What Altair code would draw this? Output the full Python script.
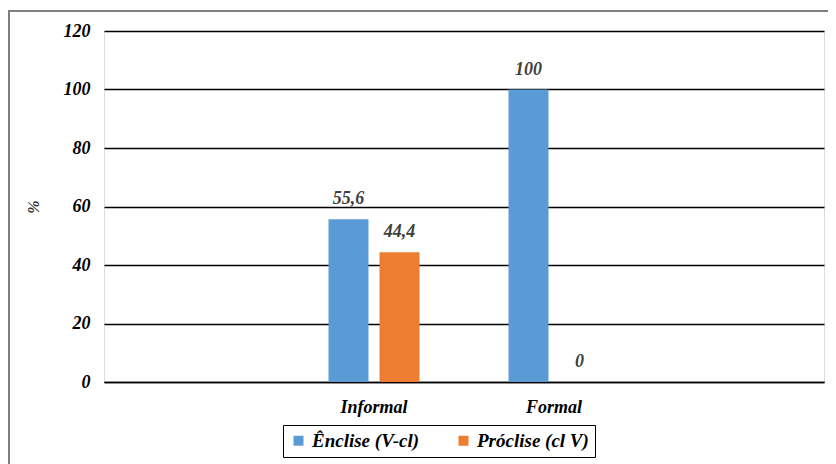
import altair as alt
import pandas as pd

# ---- data ----
axis_slots = ["slot_a", "Informal", "Formal", "slot_b"]
categories = ["Informal", "Formal"]
series = ["Ênclise (V-cl)", "Próclise (cl V)"]
enclise = [55.6, 100]
proclise = [44.4, 0]
enclise_labels = ["55,6", "100"]
proclise_labels = ["44,4", "0"]
colors = ["#5B9BD5", "#ED7D31"]
y_ticks = [0, 20, 40, 60, 80, 100, 120]

rows = []
for i, c in enumerate(categories):
    rows.append({"cat": c, "serie": series[0], "v": enclise[i], "lab": enclise_labels[i]})
    rows.append({"cat": c, "serie": series[1], "v": proclise[i], "lab": proclise_labels[i]})
df = pd.DataFrame(rows)

FONT = "'Liberation Serif', 'Times New Roman', 'DejaVu Serif', serif"

x_enc = alt.X(
    "cat:N",
    scale=alt.Scale(domain=axis_slots, paddingInner=0, paddingOuter=0),
    axis=alt.Axis(
        title=None,
        labelExpr="indexof(['Informal','Formal'], datum.value) >= 0 ? datum.value : ''",
        labelAngle=0,
        ticks=False,
        domain=True,
        domainColor="black",
        domainWidth=1.5,
        labelPadding=16,
        labelFont=FONT,
        labelFontStyle="italic",
        labelFontWeight="bold",
        labelFontSize=18,
        labelColor="black",
        grid=False,
    ),
)
xoff = alt.XOffset(
    "serie:N",
    scale=alt.Scale(domain=series, paddingInner=0.2157, paddingOuter=0.8725),
)
y_enc = alt.Y(
    "v:Q",
    scale=alt.Scale(domain=[0, 120], nice=False),
    axis=alt.Axis(
        title="%",
        values=y_ticks,
        ticks=False,
        domain=False,
        grid=True,
        gridColor="black",
        gridWidth=1.5,
        labelPadding=14,
        labelFont=FONT,
        labelFontStyle="italic",
        labelFontWeight="bold",
        labelFontSize=18,
        labelColor="black",
        titleFont=FONT,
        titleFontStyle="italic",
        titleFontWeight="bold",
        titleFontSize=16,
        titleColor="#333333",
        titlePadding=22,
    ),
)

bars = alt.Chart(df).mark_bar().encode(
    x=x_enc,
    xOffset=xoff,
    y=y_enc,
    color=alt.Color(
        "serie:N",
        scale=alt.Scale(domain=series, range=colors),
        legend=alt.Legend(
            title=None,
            orient="none",
            legendX=179,
            legendY=394,
            direction="horizontal",
            strokeColor="black",
            fillColor="white",
            padding=6,
            columnPadding=34,
            symbolType="square",
            symbolSize=100,
            symbolStrokeWidth=0,
            labelFont=FONT,
            labelFontStyle="italic",
            labelFontWeight="bold",
            labelFontSize=19,
            labelColor="black",
            labelLimit=300,
        ),
    ),
)

labels = alt.Chart(df).mark_text(
    font=FONT,
    fontStyle="italic",
    fontWeight="bold",
    fontSize=18,
    color="#404040",
    baseline="alphabetic",
    dy=-15,
).encode(
    x=alt.X("cat:N", scale=alt.Scale(domain=axis_slots, paddingInner=0, paddingOuter=0)),
    xOffset=xoff,
    y=alt.Y("v:Q", scale=alt.Scale(domain=[0, 120], nice=False)),
    text="lab:N",
)

frame = alt.Chart(df).mark_rect(
    fill=None, stroke="#7f7f7f", strokeWidth=2
).encode(
    x=alt.value(-95),
    x2=alt.value(760),
    y=alt.value(-20),
    y2=alt.value(500),
)

chart = alt.layer(frame, bars, labels).properties(
    width=720,
    height=351,
    autosize=alt.AutoSizeParams(type="none"),
    padding={"left": 96, "top": 23, "right": 4, "bottom": 82},
).configure_view(
    stroke="#8c8c8c", strokeWidth=1.5
).configure(background="white")

chart.save("out.html", embed_options={"renderer": "svg", "actions": False})
